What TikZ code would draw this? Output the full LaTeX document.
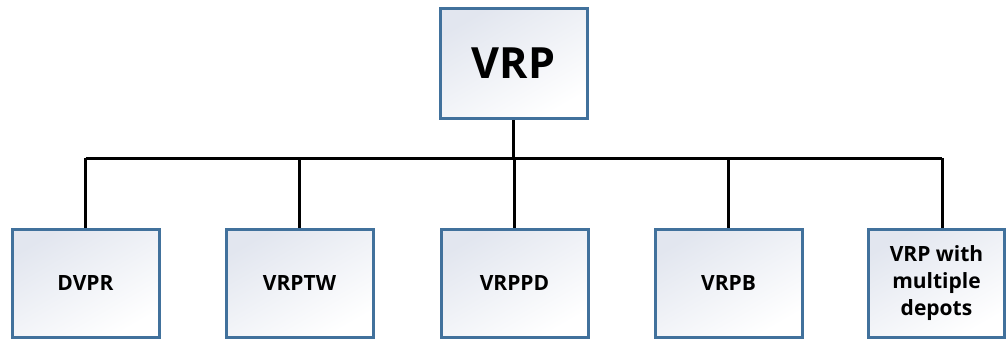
\documentclass[tikz,border=0pt]{standalone}
\usepackage{fontspec}
\setmainfont{Open Sans}
\usetikzlibrary{positioning}
\definecolor{boxline}{RGB}{65,113,156}
\definecolor{boxshade}{RGB}{226,230,239}
\tikzset{
  box/.style={draw=boxline, line width=3pt, top color=boxshade, bottom color=white,
    shading angle=30, minimum width=147pt, minimum height=108pt, inner sep=0pt,
    align=center, font=\bfseries\fontsize{21}{27}\selectfont},
  link/.style={line width=3pt, black}
}
\begin{document}
\begin{tikzpicture}[x=1pt,y=-1pt]
\useasboundingbox (0,0) rectangle (1007,341);
% root
\node[box, minimum height=110pt, font=\bfseries\fontsize{43}{48}\selectfont] (vrp) at (513.5,63.5) {VRP};
% variants
\node[box] (dvpr) at (85.5,283) {DVPR};
\node[box] (vrptw) at (299.5,283) {VRPTW};
\node[box] (vrppd) at (514.5,283) {VRPPD};
\node[box] (vrpb) at (728.5,283) {VRPB};
\node[box, minimum width=136pt] (vrpmd) at (936.5,283) {VRP with\\multiple\\depots};
% tree lines
\coordinate (bus) at (513.5,158);
\coordinate (md) at ([xshift=5.5pt]vrpmd.north);
\draw[link] (vrp.south) -- (bus);
\draw[link] (bus -| dvpr.north) -- (bus -| md);
\foreach \n in {dvpr,vrptw,vrppd,vrpb} \draw[link] (bus -| \n.north) -- (\n.north);
\draw[link] (bus -| md) -- (md);
\end{tikzpicture}
\end{document}
